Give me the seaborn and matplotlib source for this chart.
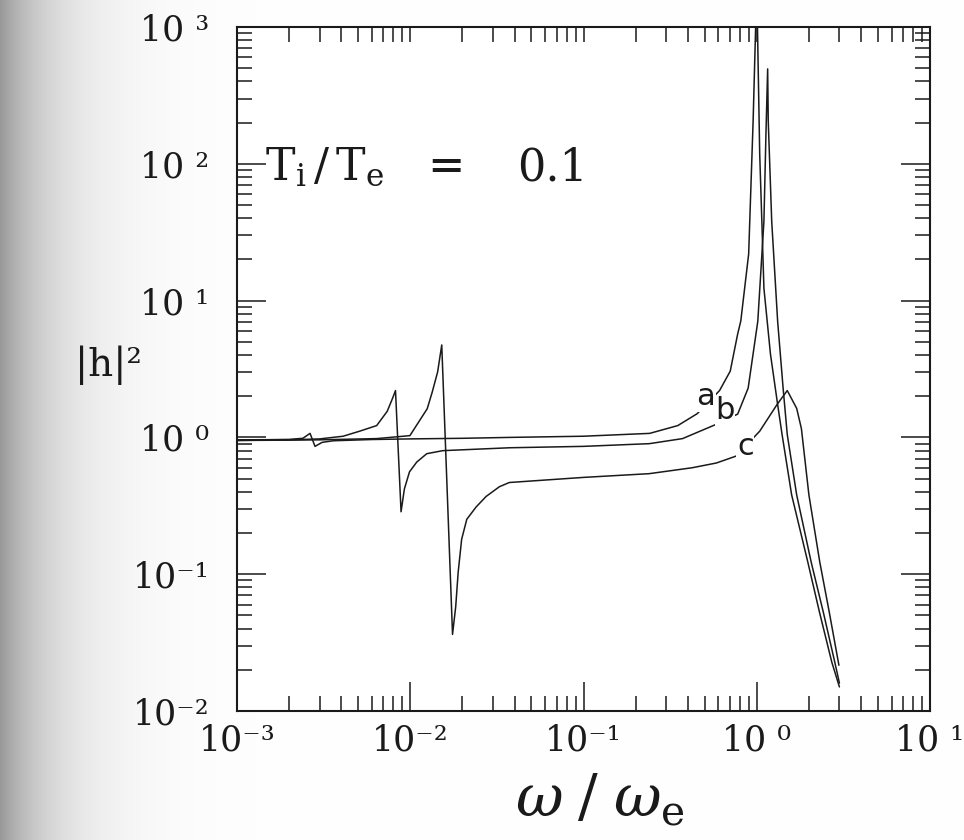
import numpy as np
import pandas as pd
import matplotlib
matplotlib.use("Agg")
import matplotlib.pyplot as plt
import seaborn as sns
from matplotlib.ticker import LogLocator, NullFormatter, FixedLocator

# ---------------- data ----------------
omega_a = [0.001, 0.0015, 0.002, 0.0024, 0.00264, 0.00282, 0.0031, 0.0036, 0.006,
           0.01, 0.02, 0.0376, 0.1, 0.241, 0.35, 0.453, 0.61, 0.703, 0.776, 0.809,
           0.898, 0.953, 1.0, 1.04, 1.07, 1.10, 1.20, 1.32, 1.40, 1.59, 1.97, 2.30,
           2.71, 3.0]
h_a = [0.96, 0.962, 0.967, 0.985, 1.07, 0.86, 0.92, 0.945, 0.965,
       0.975, 0.985, 1.0, 1.02, 1.07, 1.22, 1.49, 2.2, 3.05, 5.7, 7.1,
       21.9, 206, 2000, 118, 38, 12.3, 4.06, 1.74, 1.05, 0.38, 0.123, 0.053,
       0.0228, 0.0150]

omega_b = [0.001, 0.002, 0.003, 0.0041, 0.0051, 0.0064, 0.00736, 0.00789, 0.00822,
           0.00885, 0.00925, 0.0099, 0.0109, 0.01245, 0.0154, 0.0375, 0.1, 0.240,
           0.373, 0.587, 0.776, 0.892, 1.014, 1.10, 1.13, 1.156, 1.165, 1.22, 1.32,
           1.42, 1.50, 1.70, 2.06, 2.42, 2.82, 3.0]
h_b = [0.95, 0.96, 0.975, 1.02, 1.11, 1.22, 1.55, 1.92, 2.20,
       0.286, 0.42, 0.56, 0.66, 0.76, 0.80, 0.84, 0.86, 0.90,
       0.98, 1.25, 1.48, 2.29, 7.06, 38, 165, 494, 206, 38, 7.06,
       2.28, 1.05, 0.38, 0.123, 0.053, 0.0228, 0.0160]

omega_c = [0.001, 0.002, 0.003, 0.0064, 0.00995, 0.01253, 0.0134, 0.01439, 0.0152,
           0.01754, 0.0183, 0.0189, 0.0198, 0.0212, 0.024, 0.0274, 0.0327, 0.0373,
           0.1, 0.239, 0.424, 0.585, 0.76, 1.04, 1.31, 1.50, 1.70, 1.81, 2.0, 2.31,
           2.62, 2.98]
h_c = [0.95, 0.955, 0.96, 0.98, 1.03, 1.62, 2.15, 3.01, 4.74,
       0.0363, 0.058, 0.103, 0.18, 0.252, 0.31, 0.37, 0.436, 0.468,
       0.51, 0.543, 0.60, 0.65, 0.73, 1.11, 1.74, 2.2, 1.63, 1.16, 0.38, 0.123,
       0.053, 0.0216]

curve_names = ["a", "b", "c"]
label_omega = [0.508, 0.655, 0.859]
label_h = [1.98, 1.56, 0.86]

x_ticks = [1e-3, 1e-2, 1e-1, 1e0, 1e1]
x_tick_labels = ["10\u207b\u00b3", "10\u207b\u00b2", "10\u207b\u00b9", "10 \u2070", "10 \u00b9"]
y_ticks = [1e-2, 1e-1, 1e0, 1e1, 1e2, 1e3]
y_tick_labels = ["10\u207b\u00b2", "10\u207b\u00b9", "10 \u2070", "10 \u00b9", "10 \u00b2", "10 \u00b3"]

ratio_label = r"$\mathrm{T_i\,/\,T_e}$   ="
ratio_value = "0.1"
x_label = r"$\omega\;/\;\omega_{\mathrm{e}}$"
y_label = "|h|\u00b2"

# ---------------- styling ----------------
sns.set_theme(style="white")
plt.rcParams["font.family"] = ["DejaVu Serif", "DejaVu Sans"]
plt.rcParams["mathtext.fontset"] = "dejavuserif"

W, H = 964, 840
fig = plt.figure(figsize=(W / 100, H / 100), dpi=100)
fig.patch.set_facecolor("white")

# scanned-page shading on the left margin
xs = np.arange(W)
g = 1.0 - 0.40 * np.exp(-xs / 55.0)
shade = np.ones((H, W, 3))
for k in range(3):
    shade[:, :, k] = g[None, :]
fig.figimage(shade, xo=0, yo=0, zorder=-5)

ax = fig.add_axes([237 / W, 1 - 711 / H, (930 - 237) / W, (711 - 27) / H])
ax.set_facecolor("white")
ax.set_zorder(2)

frames = []
for name, om, hv in zip(curve_names, [omega_a, omega_b, omega_c], [h_a, h_b, h_c]):
    frames.append(pd.DataFrame({"omega": om, "h": hv, "curve": name}))
df = pd.concat(frames, ignore_index=True)

ink = "#1a1a1a"
sns.lineplot(data=df, x="omega", y="h", units="curve", estimator=None, sort=False,
             color=ink, linewidth=1.1, ax=ax, legend=False)

ax.set_xscale("log")
ax.set_yscale("log")
ax.set_xlim(1e-3, 1e1)
ax.set_ylim(1e-2, 1e3)

ax.xaxis.set_major_locator(FixedLocator(x_ticks))
ax.set_xticklabels(x_tick_labels)
ax.yaxis.set_major_locator(FixedLocator(y_ticks))
ax.set_yticklabels(y_tick_labels)
ax.xaxis.set_minor_locator(LogLocator(base=10, subs=np.arange(2, 10), numticks=100))
ax.yaxis.set_minor_locator(LogLocator(base=10, subs=np.arange(2, 10), numticks=100))
ax.xaxis.set_minor_formatter(NullFormatter())
ax.yaxis.set_minor_formatter(NullFormatter())

for sp in ax.spines.values():
    sp.set_linewidth(1.5)
    sp.set_color(ink)

ax.tick_params(which="both", direction="in", top=True, right=True, bottom=True,
               left=True, color=ink)
ax.tick_params(which="major", length=21, width=1.1)
ax.tick_params(which="minor", length=10.5, width=1.1)
ax.tick_params(axis="x", which="major", pad=9, labelsize=25, labelcolor=ink)
ax.tick_params(axis="y", which="major", pad=20, labelsize=25, labelcolor=ink)
for t in ax.xaxis.get_major_ticks():
    t.tick2line.set_markersize(10.5)

ax.set_xlabel(x_label, fontsize=42, color=ink)
ax.xaxis.label.set_va("center")
ax.xaxis.set_label_coords(0.524, -0.13)
ax.set_ylabel(y_label, fontsize=28, rotation=0, color=ink, va="center", ha="center")
ax.yaxis.set_label_coords(-0.185, 0.506)

ax.text(0.040, 0.776, ratio_label, transform=ax.transAxes, fontsize=32,
        va="baseline", ha="left", color=ink)
ax.text(0.404, 0.776, ratio_value, transform=ax.transAxes, fontsize=32,
        va="baseline", ha="left", color=ink)

for name, xo, yo in zip(curve_names, label_omega, label_h):
    ax.text(xo, yo, name, fontsize=22, family="DejaVu Sans", ha="center", va="center",
            color=ink, bbox=dict(facecolor="white", edgecolor="none", pad=0.5))

fig.savefig("out.png", dpi=100)
